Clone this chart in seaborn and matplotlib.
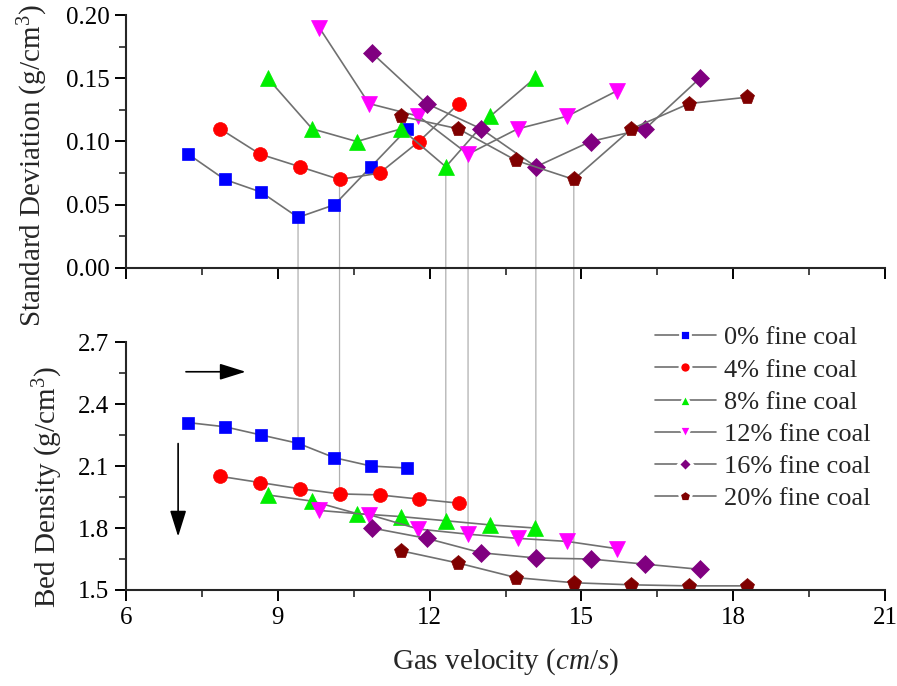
import numpy as np
import pandas as pd
import matplotlib
matplotlib.use("Agg")
import matplotlib.pyplot as plt
from matplotlib.lines import Line2D
from matplotlib.patches import ConnectionPatch
from matplotlib.ticker import MultipleLocator, FormatStrFormatter
import seaborn as sns

# Fine-coal fractions and measured series
labels = ["0% fine coal", "4% fine coal", "8% fine coal",
          "12% fine coal", "16% fine coal", "20% fine coal"]

v0 = [7.23, 7.95, 8.67, 9.40, 10.12, 10.84, 11.56]
sd0 = [0.09, 0.07, 0.06, 0.04, 0.05, 0.08, 0.11]
rho0 = [2.31, 2.29, 2.25, 2.21, 2.14, 2.10, 2.09]

v4 = [7.86, 8.65, 9.44, 10.22, 11.01, 11.79, 12.58]
sd4 = [0.11, 0.09, 0.08, 0.07, 0.075, 0.10, 0.13]
rho4 = [2.05, 2.02, 1.99, 1.965, 1.96, 1.94, 1.92]

v8 = [8.80, 9.68, 10.56, 11.44, 12.32, 13.20, 14.08]
sd8 = [0.15, 0.11, 0.10, 0.11, 0.08, 0.12, 0.15]
rho8 = [1.96, 1.93, 1.87, 1.855, 1.835, 1.815, 1.80]

v12 = [9.82, 10.80, 11.78, 12.76, 13.74, 14.72, 15.70]
sd12 = [0.19, 0.13, 0.12, 0.09, 0.11, 0.12, 0.14]
rho12 = [1.885, 1.865, 1.795, 1.77, 1.75, 1.735, 1.70]

v16 = [10.86, 11.94, 13.02, 14.10, 15.18, 16.26, 17.34]
sd16 = [0.17, 0.13, 0.11, 0.08, 0.10, 0.11, 0.15]
rho16 = [1.80, 1.75, 1.68, 1.655, 1.65, 1.625, 1.60]

v20 = [11.43, 12.57, 13.71, 14.85, 15.99, 17.13, 18.27]
sd20 = [0.12, 0.11, 0.085, 0.07, 0.11, 0.13, 0.135]
rho20 = [1.69, 1.63, 1.56, 1.535, 1.525, 1.52, 1.52]

velocities = [v0, v4, v8, v12, v16, v20]
std_devs = [sd0, sd4, sd8, sd12, sd16, sd20]
densities = [rho0, rho4, rho8, rho12, rho16, rho20]

colors = ["#0000FF", "#FF0000", "#00EE00", "#FF00FF", "#800080", "#800000"]
markers = ["s", "o", "^", "v", "D", "p"]
msizes = [9, 10, 11, 11, 9, 11]

sns.set_theme(style="ticks")
plt.rcParams["font.family"] = ["Liberation Serif", "DejaVu Serif"]
plt.rcParams["mathtext.fontset"] = "custom"
plt.rcParams["mathtext.rm"] = "Liberation Serif"
plt.rcParams["mathtext.it"] = "Liberation Serif:italic"
plt.rcParams["axes.linewidth"] = 1.5

fig = plt.figure(figsize=(8.97, 6.86), dpi=100)
fig.patch.set_facecolor("white")
ax_top = fig.add_axes([126 / 897, 1 - 268 / 686, 759 / 897, 253 / 686])
ax_bot = fig.add_axes([126 / 897, 1 - 590 / 686, 759 / 897, 248 / 686])

line_kw = dict(color="#707070", linewidth=1.2)
for v, sd, rho, c, m, ms, lab in zip(velocities, std_devs, densities,
                                      colors, markers, msizes, labels):
    df = pd.DataFrame({"velocity": v, "std": sd, "density": rho})
    for ax, col in ((ax_top, "std"), (ax_bot, "density")):
        sns.lineplot(data=df, x="velocity", y=col, ax=ax, marker=m,
                     markersize=ms, markerfacecolor=c, markeredgecolor=c,
                     markeredgewidth=0.5, label=lab, legend=False, **line_kw)

# Guide lines linking each fluctuation minimum to its bed density
for v, sd, rho in zip(velocities, std_devs, densities):
    i = int(np.argmin(sd))
    con = ConnectionPatch(xyA=(v[i], sd[i]), coordsA=ax_top.transData,
                          xyB=(v[i], rho[i]), coordsB=ax_bot.transData,
                          color="#b0b0b0", linewidth=0.9, zorder=0)
    fig.add_artist(con)

for ax in (ax_top, ax_bot):
    ax.set_xlim(6, 21)
    ax.xaxis.set_major_locator(MultipleLocator(3))
    ax.xaxis.set_minor_locator(MultipleLocator(1.5))
    sns.despine(ax=ax)
    ax.tick_params(which="major", direction="out", length=8, width=1.4,
                   labelsize=18, colors="black", pad=4)
    ax.tick_params(which="minor", direction="out", length=5, width=1.2)
    ax.patch.set_alpha(0)

ax_top.set_ylim(0, 0.20)
ax_top.yaxis.set_major_locator(MultipleLocator(0.05))
ax_top.yaxis.set_minor_locator(MultipleLocator(0.025))
ax_top.yaxis.set_major_formatter(FormatStrFormatter("%.2f"))
ax_top.tick_params(axis="x", labelbottom=False)
ax_top.set_xlabel("")
ax_top.set_ylabel("Standard Deviation (g/cm$^3$)", fontsize=21)
ax_top.yaxis.set_label_coords(-0.100, 0.405)

ax_bot.set_ylim(1.5, 2.7)
ax_bot.yaxis.set_major_locator(MultipleLocator(0.3))
ax_bot.yaxis.set_minor_locator(MultipleLocator(0.15))
ax_bot.yaxis.set_major_formatter(FormatStrFormatter("%.1f"))
ax_bot.set_ylabel("Bed Density (g/cm$^3$)", fontsize=21)
ax_bot.yaxis.set_label_coords(-0.080, 0.415)
ax_bot.set_xlabel("Gas velocity ($cm/s$)", fontsize=21, labelpad=13)

# Direction arrows
arrow_kw = dict(arrowstyle="-|>,head_length=0.8,head_width=0.25",
                color="black", linewidth=1.2, mutation_scale=20)
ax_bot.annotate("", xy=(8.42, 2.556), xytext=(7.13, 2.556),
                arrowprops=arrow_kw)
ax_bot.annotate("", xy=(7.03, 1.745), xytext=(7.03, 2.222),
                arrowprops=arrow_kw)

handles = [Line2D([], [], color="#707070", linewidth=1.2, marker=m,
                  markersize=ms * 0.8, markerfacecolor=c,
                  markeredgecolor="white", markeredgewidth=2.0)
           for c, m, ms in zip(colors, markers, msizes)]
fig.legend(handles, labels, loc="upper left",
           bbox_to_anchor=(655 / 897, 1 - 326 / 686), frameon=False,
           fontsize=19, handlelength=2.3, handletextpad=0.3,
           labelspacing=0.33, borderpad=0, borderaxespad=0)

fig.savefig("out.png", dpi=100, facecolor="white")
